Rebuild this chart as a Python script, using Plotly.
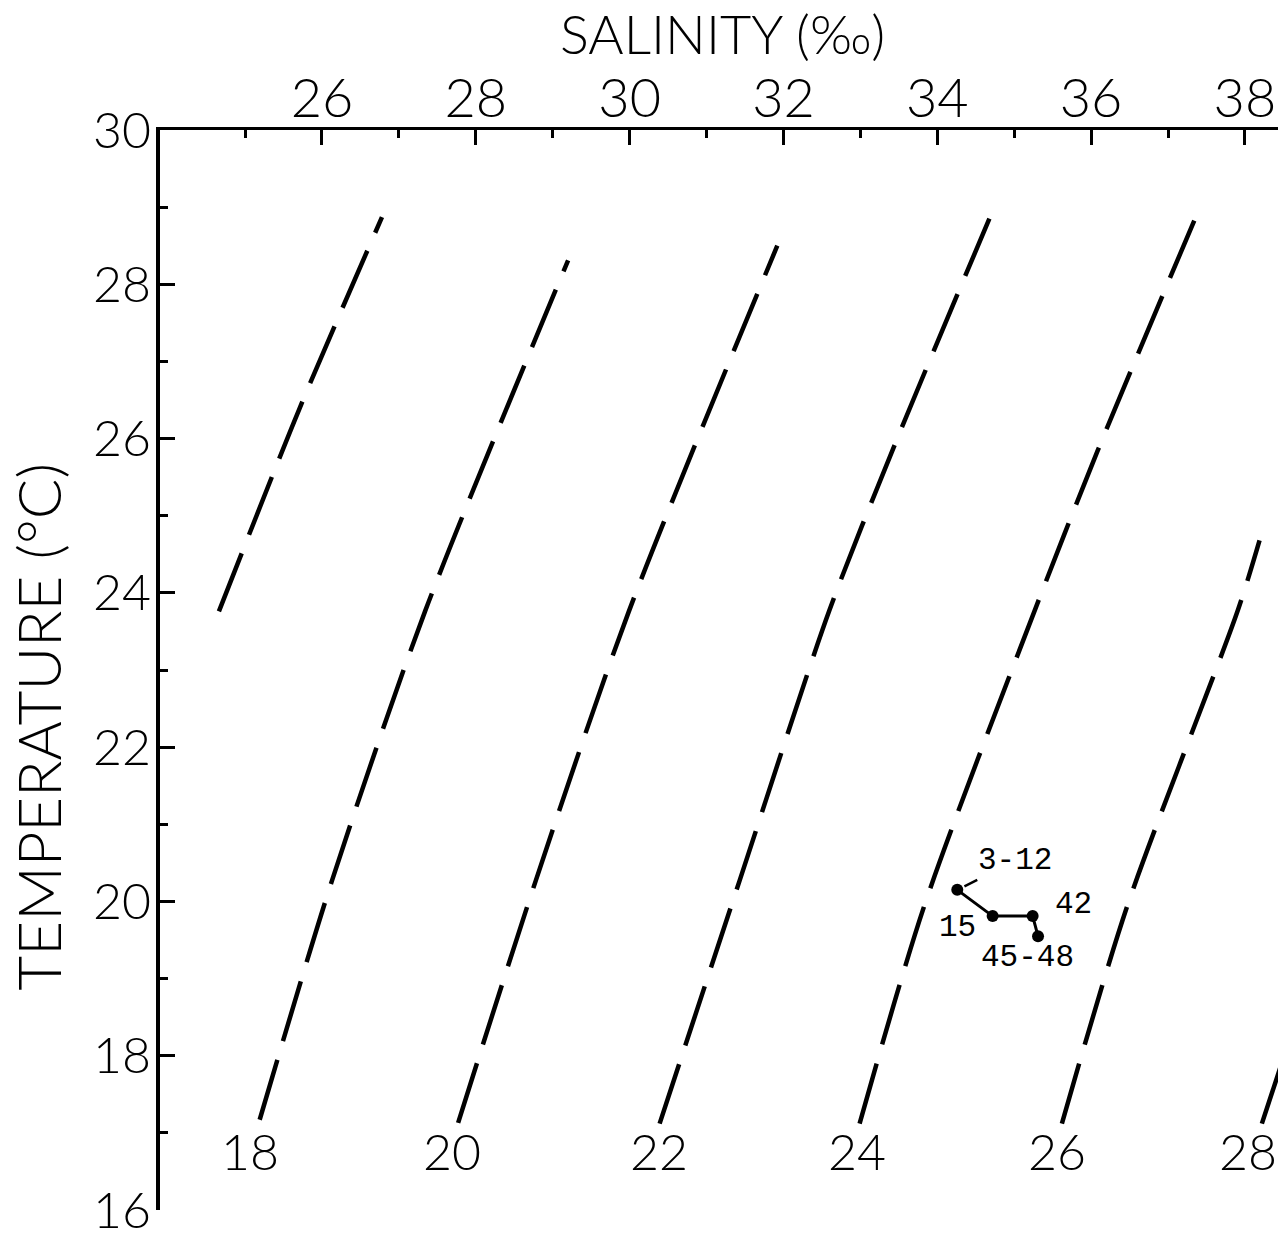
import plotly.graph_objects as go

# ---- axes ----
salinity_ticks = [26, 28, 30, 32, 34, 36, 38]
salinity_minor = [25, 27, 29, 31, 33, 35, 37]
temp_ticks = [16, 18, 20, 22, 24, 26, 28, 30]
temp_minor = [17, 19, 21, 23, 25, 27, 29]

# ---- sigma-t isopycnals (salinity, temperature), listed bottom to top ----
sig16_s = [24.66, 25.70, 26.78]
sig16_t = [23.76, 26.37, 28.87]
sig18_s = [25.19, 26.13, 27.34, 29.20]
sig18_t = [17.17, 20.27, 23.76, 28.31]
sig20_s = [27.77, 28.78, 29.99, 31.92]
sig20_t = [17.13, 20.27, 23.76, 28.50]
sig22_s = [30.39, 31.43, 32.60, 33.48, 34.72]
sig22_t = [17.12, 20.27, 23.78, 26.00, 28.95]
sig24_s = [32.99, 33.83, 35.27, 36.08, 37.36]
sig24_t = [17.12, 19.94, 23.78, 25.83, 28.87]
sig26_s = [35.62, 36.47, 37.91, 38.19]
sig26_t = [17.12, 19.94, 23.78, 24.68]
sig28_s = [38.22, 39.26]
sig28_t = [17.12, 20.27]

sigma_values = ["18", "20", "22", "24", "26", "28"]
sigma_label_s = [25.06, 27.69, 30.38, 32.96, 35.56, 38.04]
sigma_label_t = [16.77, 16.77, 16.77, 16.77, 16.77, 16.77]

# ---- stations ----
station_names = ["3-12", "15", "42", "45-48"]
station_s = [34.26, 34.72, 35.24, 35.31]
station_t = [20.15, 19.81, 19.81, 19.55]

FONT = "Lato"
WEIGHT = 300
MONO = "Liberation Mono"

fig = go.Figure()

iso_curves = [
    (sig16_s, sig16_t), (sig18_s, sig18_t), (sig20_s, sig20_t),
    (sig22_s, sig22_t), (sig24_s, sig24_t), (sig26_s, sig26_t),
    (sig28_s, sig28_t),
]
for s_vals, t_vals in iso_curves:
    fig.add_trace(go.Scatter(
        x=s_vals, y=t_vals, mode="lines",
        line=dict(color="black", width=4.5, dash="62px,20px",
                  shape="spline", smoothing=0.8),
        hoverinfo="skip", showlegend=False,
    ))

fig.add_trace(go.Scatter(
    x=station_s, y=station_t, mode="lines+markers",
    line=dict(color="black", width=3),
    marker=dict(color="black", size=12),
    hoverinfo="skip", showlegend=False,
))

annotations = []
for val, s, t in zip(sigma_values, sigma_label_s, sigma_label_t):
    annotations.append(dict(
        x=s, y=t, xref="x", yref="y", text=val, showarrow=False,
        font=dict(family=FONT, size=50, color="black", weight=WEIGHT),
        xanchor="center", yanchor="middle",
    ))

# station labels: pixel offsets from each point
label_offsets = {"3-12": (58, 29), "15": (-35, -11), "42": (41, 12), "45-48": (-11, -21)}
for name, s, t in zip(station_names, station_s, station_t):
    dx, dy = label_offsets[name]
    if name == "3-12":
        annotations.append(dict(
            x=s, y=t, xref="x", yref="y", text=name,
            showarrow=True, arrowhead=0, arrowwidth=2.5, arrowcolor="black",
            ax=dx, ay=-dy, standoff=8,
            font=dict(family=MONO, size=31, color="black"),
        ))
    else:
        annotations.append(dict(
            x=s, y=t, xref="x", yref="y", text=name, showarrow=False,
            xshift=dx, yshift=dy,
            font=dict(family=MONO, size=31, color="black"),
        ))

# axis titles
annotations.append(dict(
    x=0.5027, y=1.089, xref="paper", yref="paper", text="SALINITY (‰)",
    showarrow=False, xanchor="center", yanchor="middle",
    font=dict(family=FONT, size=54, color="black", weight=WEIGHT),
))
annotations.append(dict(
    x=-0.109, y=0.447, xref="paper", yref="paper", text="TEMPERATURE (°C)",
    showarrow=False, xanchor="center", yanchor="middle", textangle=-90,
    font=dict(family=FONT, size=60, color="black", weight=WEIGHT),
))

fig.update_layout(
    width=1278, height=1240,
    margin=dict(l=160, r=0, t=130, b=30),
    paper_bgcolor="white", plot_bgcolor="white",
    annotations=annotations,
    xaxis=dict(
        range=[23.894, 38.43], side="top", automargin=False,
        showline=True, linewidth=3, linecolor="black",
        ticks="inside", ticklen=15, tickwidth=3, tickcolor="black",
        tickvals=salinity_ticks, ticktext=[str(v) for v in salinity_ticks],
        tickfont=dict(family=FONT, size=54, color="black", weight=WEIGHT),
        ticklabelstandoff=-12, ticklabeloverflow="allow",
        minor=dict(tickvals=salinity_minor, ticks="inside", ticklen=8,
                   tickwidth=3, tickcolor="black"),
        showgrid=False, zeroline=False,
    ),
    yaxis=dict(
        range=[16, 30], automargin=False,
        showline=True, linewidth=4, linecolor="black",
        ticks="inside", ticklen=15, tickwidth=3, tickcolor="black",
        tickvals=temp_ticks, ticktext=[str(v) for v in temp_ticks],
        tickfont=dict(family=FONT, size=50, color="black", weight=WEIGHT),
        ticklabelstandoff=-5, ticklabeloverflow="allow",
        minor=dict(tickvals=temp_minor, ticks="inside", ticklen=8,
                   tickwidth=3, tickcolor="black"),
        showgrid=False, zeroline=False,
    ),
)

fig.write_html("out.html")
